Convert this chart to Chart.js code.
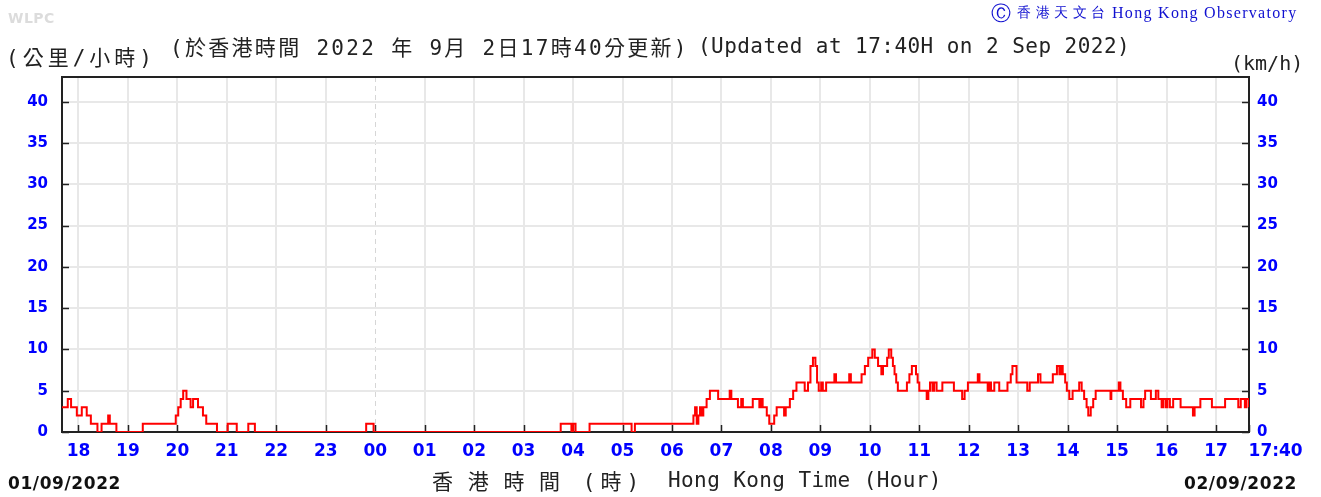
<!DOCTYPE html>
<html>
<head>
<meta charset="utf-8">
<script src="https://cdn.jsdelivr.net/npm/chart.js@4.4.0/dist/chart.umd.min.js"></script>
<style>
  html, body { margin: 0; padding: 0; background: #fff; }
  #wrap { position: relative; width: 1321px; height: 497px; overflow: hidden; }
  #chart { position: absolute; left: 0; top: 0; }
  .t { position: absolute; white-space: pre; line-height: 1; }
  .mono { font-family: "DejaVu Sans Mono", "Noto Sans CJK TC", monospace; color: #222; }
  .cjk { font-family: "Noto Sans CJK TC", sans-serif; }
  .hko { color: #1010d0; font-family: "Liberation Serif", serif; }
</style>
</head>
<body>
<div id="wrap">
  <canvas id="chart" width="1321" height="497"></canvas>

  <div class="t" style="left:8px;top:10px;font:bold 14px 'DejaVu Sans';color:#dcdcdc;letter-spacing:0.5px">WLPC</div>

  <div class="t hko" style="left:991px;top:3px;font-size:20px">Ⓒ</div>
  <div class="t hko cjk" style="left:1017px;top:6px;font-size:14px;letter-spacing:4.5px">香港天文台</div>
  <div class="t hko" style="left:1112px;top:5px;font-size:16px;letter-spacing:1.3px">Hong Kong Observatory</div>

  <div class="t mono" style="left:6px;top:46px;font-size:21px;letter-spacing:4px">(<span class="cjk">公里</span>/<span class="cjk">小時</span>)</div>
  <div class="t mono" style="left:170px;top:36px;font-size:21px;letter-spacing:2.3px">(<span class="cjk">於香港時間</span> 2022 <span class="cjk">年</span> 9<span class="cjk">月</span> 2<span class="cjk">日</span>17<span class="cjk">時</span>40<span class="cjk">分更新</span>)</div>
  <div class="t mono" style="left:698px;top:36px;font-size:21px;letter-spacing:0.45px">(Updated at 17:40H on 2 Sep 2022)</div>
  <div class="t mono" style="left:1231px;top:53px;font-size:20px">(km/h)</div>

  <div class="t" style="left:8px;top:473px;font:bold 17px 'DejaVu Sans';color:#111;letter-spacing:0.6px">01/09/2022</div>
  <div class="t" style="left:1184px;top:473px;font:bold 17px 'DejaVu Sans';color:#111;letter-spacing:0.6px">02/09/2022</div>
  <div class="t mono" style="left:432px;top:470px;font-size:21px;letter-spacing:5px"><span class="cjk">香 港 時 間</span> (<span class="cjk">時</span>)</div>
  <div class="t mono" style="left:668px;top:470px;font-size:21px;letter-spacing:0.4px">Hong Kong Time (Hour)</div>
</div>

<script>
// wind speed, km/h, as a step series: the value holds from each time until the next one
const times = [
  "17:40", "17:47", "17:51", "17:58", "18:04", "18:10", "18:15", "18:23", "18:28", "18:36",
  "18:38", "18:46", "19:18", "19:58", "20:01", "20:04", "20:07", "20:11", "20:16", "20:19",
  "20:25", "20:31", "20:35", "20:48", "21:01", "21:12", "21:26", "21:34", "23:49", "23:58",
  "03:45", "03:58", "04:00", "04:03", "04:20", "05:11", "05:15", "06:26", "06:28", "06:30",
  "06:32", "06:34", "06:36", "06:38", "06:42", "06:46", "06:56", "07:10", "07:12", "07:20",
  "07:24", "07:26", "07:38", "07:46", "07:48", "07:50", "07:55", "07:58", "08:04", "08:07",
  "08:16", "08:18", "08:23", "08:27", "08:31", "08:41", "08:45", "08:48", "08:51", "08:54",
  "08:56", "08:58", "09:01", "09:03", "09:07", "09:17", "09:19", "09:35", "09:37", "09:50",
  "09:54", "09:58", "10:03", "10:06", "10:10", "10:14", "10:16", "10:21", "10:23", "10:26",
  "10:28", "10:30", "10:32", "10:34", "10:45", "10:48", "10:51", "10:56", "10:58", "11:00",
  "11:09", "11:11", "11:13", "11:16", "11:18", "11:21", "11:28", "11:42", "11:52", "11:55",
  "11:59", "12:11", "12:13", "12:23", "12:25", "12:27", "12:31", "12:37", "12:47", "12:51",
  "12:53", "12:58", "13:11", "13:14", "13:24", "13:27", "13:42", "13:47", "13:50", "13:52",
  "13:54", "13:57", "13:59", "14:02", "14:06", "14:14", "14:17", "14:20", "14:23", "14:25",
  "14:28", "14:31", "14:34", "14:52", "14:53", "15:02", "15:04", "15:07", "15:11", "15:16",
  "15:29", "15:32", "15:34", "15:41", "15:47", "15:50", "15:54", "15:56", "15:59", "16:01",
  "16:04", "16:08", "16:17", "16:32", "16:34", "16:41", "16:55", "17:11", "17:27", "17:30",
  "17:35", "17:37", "17:40"
];
const speeds = [
  3, 4, 3, 2, 3, 2, 1, 0, 1, 2,
  1, 0, 1, 2, 3, 4, 5, 4, 3, 4,
  3, 2, 1, 0, 1, 0, 1, 0, 1, 0,
  1, 0, 1, 0, 1, 0, 1, 2, 3, 1,
  2, 3, 2, 3, 4, 5, 4, 5, 4, 3,
  4, 3, 4, 3, 4, 3, 2, 1, 2, 3,
  2, 3, 4, 5, 6, 5, 6, 8, 9, 8,
  6, 5, 6, 5, 6, 7, 6, 7, 6, 7,
  8, 9, 10, 9, 8, 7, 8, 9, 10, 9,
  8, 7, 6, 5, 6, 7, 8, 7, 6, 5,
  4, 5, 6, 5, 6, 5, 6, 5, 4, 5,
  6, 7, 6, 5, 6, 5, 6, 5, 6, 7,
  8, 6, 5, 6, 7, 6, 7, 8, 7, 8,
  7, 6, 5, 4, 5, 6, 5, 4, 3, 2,
  3, 4, 5, 4, 5, 6, 5, 4, 3, 4,
  3, 4, 5, 4, 5, 4, 3, 4, 3, 4,
  3, 4, 3, 2, 3, 4, 3, 4, 3, 4,
  3, 4, 3
];

const xTickLabels = ["18", "19", "20", "21", "22", "23", "00", "01", "02", "03", "04", "05",
                     "06", "07", "08", "09", "10", "11", "12", "13", "14", "15", "16", "17", "17:40"];
const yTickValues = [0, 5, 10, 15, 20, 25, 30, 35, 40];

// minutes after 17:40 on 01/09
const START = 17 * 60 + 40;
function toMinutes(hhmm, i) {
  const [h, m] = hhmm.split(":").map(Number);
  let v = (h * 60 + m - START + 1440) % 1440;
  if (i === times.length - 1 && v === 0) v = 1440;
  return v;
}
const points = times.map((t, i) => ({ x: toMinutes(t, i), y: speeds[i] }));

// hour ticks: 18:00 is 20 minutes in, then hourly, then the end of the window
const xTickValues = xTickLabels.map((l, i) => i < xTickLabels.length - 1 ? 20 + i * 60 : 1440);
const MIDNIGHT = 380;

const BLUE = "#0000ff";
const tickFont = { family: "DejaVu Sans", weight: "bold", size: 17 };
const yFont = { family: "DejaVu Sans", weight: "bold", size: 15 };

/* ================= FRAME + INNER TICKS ================= */
const frameTicks = {
  id: "frameTicks",
  beforeDatasetsDraw(chart) {
    const { ctx, chartArea: a, scales } = chart;
    ctx.save();
    ctx.strokeStyle = "#222";
    ctx.lineWidth = 1.5;
    ctx.beginPath();
    scales.x.ticks.forEach(t => {
      const px = Math.round(scales.x.getPixelForValue(t.value)) + 0.5;
      ctx.moveTo(px, a.bottom);
      ctx.lineTo(px, a.bottom - 7);
    });
    scales.y.ticks.forEach(t => {
      const py = Math.round(scales.y.getPixelForValue(t.value)) + 0.5;
      ctx.moveTo(a.left, py);
      ctx.lineTo(a.left + 7, py);
      ctx.moveTo(a.right, py);
      ctx.lineTo(a.right - 7, py);
    });
    ctx.stroke();
    ctx.lineWidth = 2;
    ctx.strokeRect(a.left, a.top, a.right - a.left, a.bottom - a.top);
    ctx.restore();
  }
};

new Chart(document.getElementById("chart"), {
  type: "line",
  data: {
    datasets: [{
      data: points,
      borderColor: "#ff0000",
      borderWidth: 2,
      stepped: true,
      pointRadius: 0,
      fill: false
    }]
  },
  options: {
    responsive: false,
    animation: false,
    devicePixelRatio: 1,
    layout: { padding: { top: 77 } },
    plugins: { legend: { display: false }, tooltip: { enabled: false } },
    scales: {
      x: {
        type: "linear",
        min: 0,
        max: 1440,
        afterBuildTicks: s => { s.ticks = xTickValues.map(v => ({ value: v })); },
        afterFit: s => { s.height = 65; },
        ticks: {
          autoSkip: false,
          maxRotation: 0,
          padding: 9,
          color: BLUE,
          font: tickFont,
          // pad the last label so it sits to the right of the end tick
          callback: (v, i) => i === xTickLabels.length - 1 ? "         " + xTickLabels[i] : xTickLabels[i]
        },
        grid: {
          drawTicks: false,
          color: c => c.tick && c.tick.value === 1440 ? "rgba(0,0,0,0)" : (c.tick && c.tick.value === MIDNIGHT ? "#d6d6d6" : "#e8e8e8"),
          lineWidth: c => c.tick && c.tick.value === MIDNIGHT ? 1 : 2
        },
        border: {
          display: false,
          dash: c => c.tick && c.tick.value === MIDNIGHT ? [5, 4] : []
        }
      },
      y: {
        min: 0,
        max: 43,
        position: "left",
        afterBuildTicks: s => { s.ticks = yTickValues.map(v => ({ value: v })); },
        afterFit: s => { s.width = 62; },
        ticks: { padding: 14, color: BLUE, font: yFont },
        grid: { drawTicks: false, color: "#e8e8e8", lineWidth: 2 },
        border: { display: false }
      },
      y1: {
        min: 0,
        max: 43,
        position: "right",
        afterBuildTicks: s => { s.ticks = yTickValues.map(v => ({ value: v })); },
        afterFit: s => { s.width = 72; },
        ticks: { padding: 8, color: BLUE, font: yFont },
        grid: { drawTicks: false, drawOnChartArea: false },
        border: { display: false }
      }
    }
  },
  plugins: [frameTicks]
});
</script>
</body>
</html>
